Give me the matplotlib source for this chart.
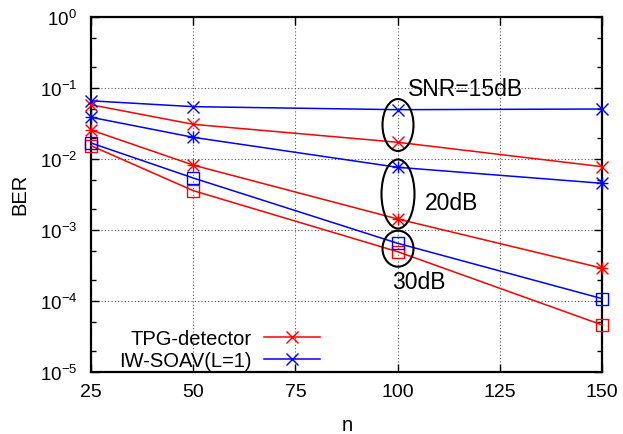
import matplotlib
matplotlib.use('Agg')
import matplotlib.pyplot as plt
from matplotlib.patches import Ellipse
from matplotlib.path import Path
from matplotlib.lines import Line2D
import matplotlib.ticker as mticker
import numpy as np

# ---- data ----
n = [25, 50, 100, 150]
tpg_15 = [0.058, 0.0308, 0.0172, 0.0078]
iw_15 = [0.066, 0.0546, 0.0495, 0.0506]
tpg_20 = [0.0256, 0.0082, 0.00143, 2.9e-4]
iw_20 = [0.0387, 0.0202, 0.00764, 0.00455]
tpg_30 = [0.0154, 0.00358, 4.95e-4, 4.6e-5]
iw_30 = [0.0168, 0.0054, 6.5e-4, 1.08e-4]
x_ticks = [25, 50, 75, 100, 125, 150]
y_ticks = [1e-5, 1e-4, 1e-3, 1e-2, 1e-1, 1e0]
legend_labels = ['TPG-detector', 'IW-SOAV(L=1)']
snr_labels = ['SNR=15dB', '20dB', '30dB']

plt.rcParams['font.family'] = ['Liberation Sans', 'DejaVu Sans']
plt.rcParams['mathtext.fontset'] = 'custom'
plt.rcParams['mathtext.rm'] = 'Liberation Sans'
plt.rcParams['mathtext.it'] = 'Liberation Sans:italic'
plt.rcParams['mathtext.bf'] = 'Liberation Sans:bold'

RED = '#ff0000'
BLUE = '#0000ff'

star = Path([(-1, -1), (1, 1), (-1, 1), (1, -1), (0, -1), (0, 1), (-1, 0), (1, 0)],
            [Path.MOVETO, Path.LINETO] * 4)

W, H = 623, 435
fig = plt.figure(figsize=(W / 100, H / 100), dpi=100)
L, R, T, B = 91, 602, 18, 373
ax = fig.add_axes([L / W, 1 - B / H, (R - L) / W, (B - T) / H])

lw = 1.1
ms = 8.5
mew = 1.0
common = dict(lw=lw, ms=ms, mew=mew, zorder=3, clip_on=False)
ax.plot(n, tpg_15, color=RED, marker='x', **common)
ax.plot(n, iw_15, color=BLUE, marker='x', **common)
ax.plot(n, tpg_20, color=RED, marker=star, **common)
ax.plot(n, iw_20, color=BLUE, marker=star, **common)
ax.plot(n, tpg_30, color=RED, marker='s', mfc='none', **common)
ax.plot(n, iw_30, color=BLUE, marker='s', mfc='none', **common)

ax.set_xscale('linear')
ax.set_yscale('log')
ax.set_xlim(25, 150)
ax.set_ylim(1e-5, 1e0)
ax.set_xticks(x_ticks)
ax.set_xticklabels([str(v) for v in x_ticks])
ax.set_yticks(y_ticks)
ax.yaxis.set_major_formatter(mticker.FuncFormatter(
    lambda v, p: r'$\mathregular{10^{%d}}$' % int(round(np.log10(v)))))
ax.yaxis.set_minor_locator(mticker.LogLocator(base=10, subs=(2.0, 5.0), numticks=20))
ax.yaxis.set_minor_formatter(mticker.NullFormatter())

ax.tick_params(axis='both', which='both', direction='in', top=True, right=True, width=1.0)
ax.tick_params(axis='both', which='major', length=6)
ax.tick_params(axis='both', which='minor', length=3.5)
ax.tick_params(axis='x', labelsize=14, pad=8)
ax.tick_params(axis='y', labelsize=13.5, pad=10)

for s in ax.spines.values():
    s.set_linewidth(1.6)
    s.set_zorder(2.5)

ax.grid(True, which='major', color='#555555', linestyle=(0, (1, 2)), linewidth=0.8)
ax.set_axisbelow(True)

# ellipses (axes coordinates)
cx = (398 - L) / (R - L)
for cy_px, w_px, h_px in [(126, 31, 52), (195, 33, 69), (249.7, 31, 36)]:
    e = Ellipse(((cx), (B - cy_px) / (B - T)), w_px / (R - L), h_px / (B - T),
                transform=ax.transAxes, fill=False, edgecolor='black', lw=1.5, zorder=4)
    ax.add_patch(e)

# annotations
for txt, xp, yp in zip(snr_labels, [408, 425, 392], [96.5, 210.5, 289]):
    fig.text(xp / W, 1 - yp / H, txt, fontsize=16.5, ha='left', va='baseline')

# axis labels
fig.text(25 / W, 1 - 194 / H, 'BER', rotation=90, rotation_mode='anchor',
         ha='center', va='baseline', fontsize=14.5)
fig.text(347 / W, 1 - 431 / H, 'n', ha='center', va='baseline', fontsize=14.5)

# legend
handles = [Line2D([], [], color=RED, marker='x', lw=lw, ms=ms, mew=mew),
           Line2D([], [], color=BLUE, marker='x', lw=lw, ms=ms, mew=mew)]
ax.legend(handles, legend_labels, loc='lower right', bbox_to_anchor=((320 - L) / (R - L), 0.005),
          frameon=False, markerfirst=False, fontsize=14.5, handlelength=2.8,
          handletextpad=0.6, labelspacing=0.15, borderpad=0, borderaxespad=0)

fig.savefig('out.png', dpi=100)
